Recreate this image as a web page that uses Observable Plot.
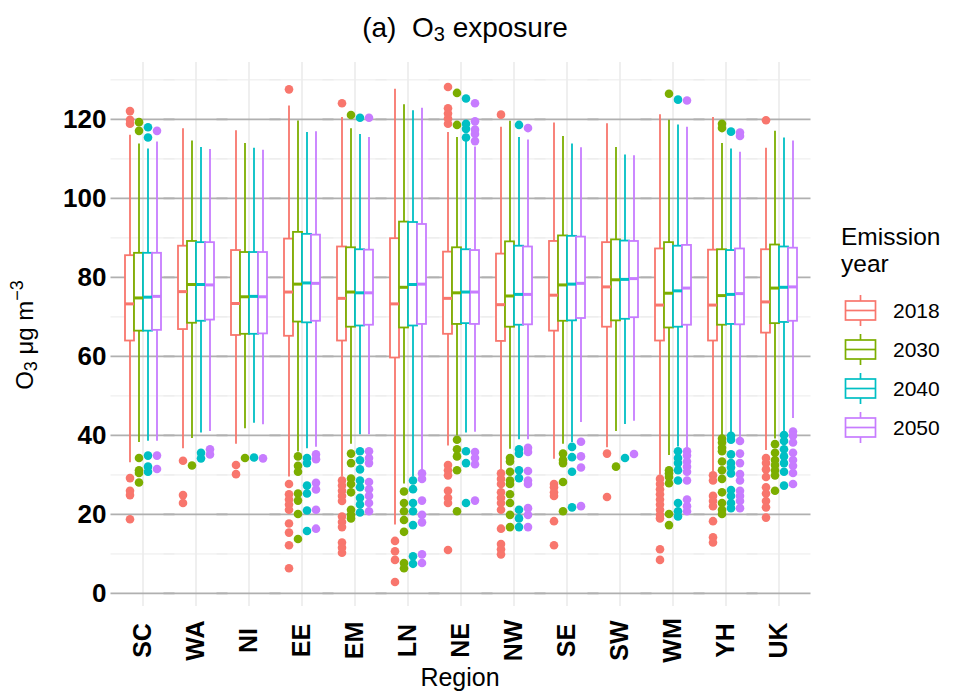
<!DOCTYPE html>
<html><head><meta charset="utf-8">
<script src="https://cdn.jsdelivr.net/npm/d3@7"></script>
<script src="https://cdn.jsdelivr.net/npm/@observablehq/plot@0.6"></script>
<style>
body{margin:0;background:#fff;font-family:"Liberation Sans",Arial,sans-serif;color:#000}
#wrap{position:relative;width:954px;height:695px;overflow:hidden;background:#fff}
#title{position:absolute;left:0;top:14px;width:930px;text-align:center;font-size:28px;line-height:28px;white-space:nowrap}
#title sub{font-size:20px;vertical-align:-4px;line-height:0}
#chart{position:absolute;left:0;top:50px}
#ylab{position:absolute;left:25px;top:335px;transform:translate(-50%,-50%) rotate(-90deg);font-size:24px;line-height:24px;white-space:nowrap}
#ylab sub{font-size:18px;vertical-align:-4px;line-height:0}
#ylab sup{font-size:18px;vertical-align:10px;line-height:0}
#xlab{position:absolute;left:360px;width:200px;top:664px;text-align:center;font-size:25px;line-height:26px}
#legend{position:absolute;left:0;top:0}
.lt{position:absolute;left:841px;font-size:24.5px;line-height:27px;white-space:nowrap}
.li{position:absolute;left:844px;height:39px;width:110px}
.li svg{position:absolute;left:0;top:0}
.li span{position:absolute;left:49px;top:9px;font-size:21px;line-height:21px}
</style></head><body>
<div id="wrap">
 <div id="title">(a)&nbsp; O<sub>3</sub> exposure</div>
 <div id="chart"></div>
 <div id="ylab">O<sub>3</sub> μg m<sup>−3</sup></div>
 <div id="xlab">Region</div>
 <div id="legend"></div>
</div>
<script>
const regions = ["SC","WA","NI","EE","EM","LN","NE","NW","SE","SW","WM","YH","UK"];
const years = ["2018","2030","2040","2050"];
const colors = ["#F8766D","#7CAE00","#00BFC4","#C77CFF"];
const yTicks = [0,20,40,60,80,100,120];
const yMinor = [10,30,50,70,90,110,130];

// box statistics per region (rows) and emission year (columns)
const upperQ = [
 [85.5,86.1,86.1,86.1],[87.9,89.1,88.8,88.8],[86.8,86.3,86.3,86.3],[89.7,91.4,90.9,90.7],
 [87.7,87.5,87.0,86.9],[89.8,94.0,93.9,93.4],[86.4,87.5,87.0,86.8],[85.9,89.0,87.9,87.7],
 [89.1,90.5,90.4,90.2],[88.8,89.5,89.2,89.1],[87.2,88.8,87.9,88.1],[86.9,87.0,86.8,87.2],
 [87.0,88.2,87.7,87.4]];
const medianV = [
 [73.3,74.8,75.0,75.2],[76.4,78.2,78.2,78.1],[73.4,75.1,75.2,75.1],[76.3,78.3,78.6,78.5],
 [74.7,76.3,76.1,76.1],[73.3,77.5,78.2,78.3],[74.7,76.1,76.3,76.3],[73.1,75.3,75.7,75.7],
 [75.5,78.1,78.3,78.5],[77.6,79.4,79.5,79.7],[73.0,76.0,76.6,77.3],[73.0,75.4,75.7,75.9],
 [73.8,77.3,77.5,77.6]];
const lowerQ = [
 [63.9,66.4,66.4,66.6],[66.8,68.4,68.9,69.2],[65.3,65.6,65.6,65.7],[65.1,68.7,68.5,68.9],
 [63.9,67.4,67.7,67.9],[59.6,67.2,67.7,68.1],[65.6,68.1,68.3,68.1],[63.8,67.4,67.9,68.0],
 [66.4,68.9,69.0,69.6],[67.4,69.0,69.4,69.8],[63.9,67.2,67.4,67.9],[63.9,67.9,68.1,68.0],
 [65.9,68.3,68.6,68.9]];
const whiskerHi = [
 [116.0,113.8,112.5,114.3],[117.6,114.5,112.9,112.4],[117.1,113.9,112.7,112.2],[123.4,119.6,116.7,116.9],
 [120.5,117.6,116.2,115.4],[127.6,123.7,122.2,122.8],[116.7,115.4,114.5,113.0],[118.0,119.5,115.4,114.8],
 [119.1,115.7,113.8,112.8],[118.9,112.9,111.0,110.8],[121.2,119.8,118.6,118.0],[120.5,113.9,112.5,111.7],
 [112.7,117.0,115.3,114.5]];
const whiskerLo = [
 [33.1,38.2,38.5,38.5],[36.6,39.2,40.6,41.0],[37.8,41.7,43.1,42.7],[29.5,35.8,36.6,37.0],
 [29.5,37.8,40.2,40.2],[17.3,27.7,29.5,30.8],[37.3,39.9,40.6,40.8],[31.2,36.5,38.9,38.9],
 [34.0,37.8,38.2,43.3],[36.9,41.0,42.8,43.6],[29.9,34.9,37.1,36.9],[30.8,39.9,40.6,39.5],
 [36.2,39.1,40.8,44.3]];
const outliers = [
 [[122.1,119.9,118.9,29.2,26.0,24.9,18.8],[119.3,117.1,34.3,31.2,30.5,28.1],[118.0,115.4,34.9,32.1,30.8],[117.1,34.9,31.5]],
 [[33.6,24.9,22.9],[32.4],[35.6,34.2],[36.5,35.2]],
 [[32.5,30.2],[34.3],[34.4],[34.2]],
 [[127.6,27.7,25.1,23.8,22.5,21.2,17.7,15.4,12.2,6.4],[34.7,32.3,30.8,25.3,23.5,20.1,13.8],[34.3,33.0,27.3,25.3,21.0,15.8],[35.2,34.0,28.0,26.3,21.2,16.4]],
 [[124.1,28.6,27.3,26.0,24.7,23.4,19.5,18.1,16.8,12.9,11.6,10.3],[121.1,35.4,33.0,29.1,27.7,25.6,21.2,19.9,19.0],[120.4,36.0,33.7,31.4,28.6,26.9,24.2,22.5,20.5],[120.4,36.0,34.3,33.0,28.2,26.4,24.7,22.9,20.8]],
 [[13.3,10.7,8.5,2.9],[25.8,22.9,20.8,18.6,15.6,7.7,6.4],[28.6,26.4,22.9,20.8,17.3,9.4,7.5],[30.4,29.0,23.5,19.9,18.0,9.9,7.7]],
 [[128.2,122.8,121.5,120.2,118.9,32.5,31.2,29.9,26.0,24.2,22.9,11.0],[126.7,118.6,38.9,36.5,34.7,31.2,20.8],[125.3,118.9,117.6,115.4,36.0,33.0,22.9],[124.1,119.5,117.4,116.3,114.5,35.8,34.3,32.7,23.5]],
 [[121.2,30.4,29.0,27.7,25.6,24.2,22.9,21.2,16.4,12.5,11.2,9.9],[34.3,33.4,30.8,28.6,27.7,25.1,22.9,19.9,16.8],[118.6,36.5,35.4,31.2,29.2,21.2,19.0,16.8],[117.8,36.9,35.8,31.0,28.6,27.7,21.6,19.9,16.8]],
 [[27.7,26.9,25.6,24.7,18.3,12.2],[35.4,33.8,33.0,28.2,20.8],[37.1,34.5,30.8,21.8],[38.4,34.7,31.9,22.1]],
 [[35.4,24.4],[32.1],[34.3],[35.3]],
 [[29.0,27.7,26.4,25.1,23.8,22.5,21.2,19.9,19.0,11.2,8.5],[126.5,31.2,30.4,29.5,27.9,20.1,17.3],[125.0,36.0,34.3,33.0,31.2,28.6,22.9,20.8,19.5],[124.8,36.0,34.9,33.4,32.1,30.8,28.6,23.8,22.1,20.8]],
 [[29.9,28.6,24.7,23.4,22.1,18.3,14.2,12.9],[118.9,117.8,39.2,38.2,36.9,36.0,33.4,31.2,29.0,25.6,22.9,21.2,20.1],[116.9,39.9,38.9,35.2,33.0,31.9,30.4,26.2,24.7,22.9,21.6],[116.7,115.8,38.6,35.4,33.0,30.2,28.6,26.0,24.7,23.4,21.6]],
 [[119.8,34.3,33.0,31.4,29.5,26.9,25.3,23.4,21.8,19.2],[37.8,35.6,33.8,32.5,31.2,29.9,26.0],[40.1,38.6,36.5,34.7,33.0,30.8,27.3],[41.0,39.9,38.2,35.6,33.8,32.3,30.5,27.7]]
];

const boxes = [];
const points = [];
regions.forEach((r, i) => years.forEach((yr, j) => {
  boxes.push({region: r, year: yr, q1: lowerQ[i][j], med: medianV[i][j], q3: upperQ[i][j], lo: whiskerLo[i][j], hi: whiskerHi[i][j]});
  outliers[i][j].forEach(v => points.push({region: r, year: yr, value: v}));
}));

const font = '"Liberation Sans", Arial, sans-serif';
const chart = Plot.plot({
  width: 954, height: 645,
  marginLeft: 109, marginRight: 143, marginTop: 12, marginBottom: 89,
  style: {fontFamily: font, background: "#fff", color: "#000", overflow: "visible"},
  fx: {domain: regions, paddingInner: 0, paddingOuter: 0.1, label: null},
  x: {domain: years, padding: 0, insetLeft: 6.6, insetRight: 6.6, axis: null},
  y: {domain: [-3.3, 134.4], label: null},
  color: {domain: years, range: colors},
  marks: [
    Plot.ruleY(yMinor, {stroke: "#ebebeb", strokeWidth: 1, insetLeft: -5.5, insetRight: -5.5}),
    Plot.gridFx({stroke: "#ebebeb", strokeOpacity: 1, strokeWidth: 1.6}),
    Plot.ruleY(yTicks, {stroke: "#b0b0b0", strokeWidth: 1.7, insetLeft: -5.5, insetRight: -5.5}),
    Plot.dot(points, {fx: "region", x: "year", y: "value", fill: "year", r: 4.3}),
    Plot.ruleX(boxes, {fx: "region", x: "year", y1: "q3", y2: "hi", stroke: "year", strokeWidth: 1.8}),
    Plot.ruleX(boxes, {fx: "region", x: "year", y1: "lo", y2: "q1", stroke: "year", strokeWidth: 1.8}),
    Plot.barY(boxes, {fx: "region", x: "year", y1: "q1", y2: "q3", fill: "#fff", stroke: "year", strokeWidth: 1.8}),
    Plot.tickY(boxes, {fx: "region", x: "year", y: "med", stroke: "year", strokeWidth: 3}),
    Plot.axisY({ticks: yTicks, tickSize: 0, tickPadding: 10, fontSize: 26, fontWeight: "bold", label: null, fill: "#000"}),
    Plot.axisFx({anchor: "bottom", tickRotate: -90, tickSize: 0, tickPadding: 34, textAnchor: "middle", fontSize: 25, fontWeight: "bold", label: null, fill: "#000"})
  ]
});
document.getElementById("chart").appendChild(chart);

// legend
const leg = document.getElementById("legend");
leg.innerHTML = '<div class="lt" style="top:223px">Emission</div><div class="lt" style="top:250px">year</div>' +
  years.map((yr, i) => {
    const c = colors[i];
    return `<div class="li" style="top:${291 + 39 * i}px"><svg width="34" height="39">
      <line x1="16.5" x2="16.5" y1="4" y2="35" stroke="${c}" stroke-width="1.7"/>
      <rect x="1.5" y="10" width="30" height="19" fill="#fff" stroke="${c}" stroke-width="1.7"/>
      <line x1="1.5" x2="31.5" y1="19.5" y2="19.5" stroke="${c}" stroke-width="1.7"/>
    </svg><span>${yr}</span></div>`;
  }).join("");
</script>
</body></html>
